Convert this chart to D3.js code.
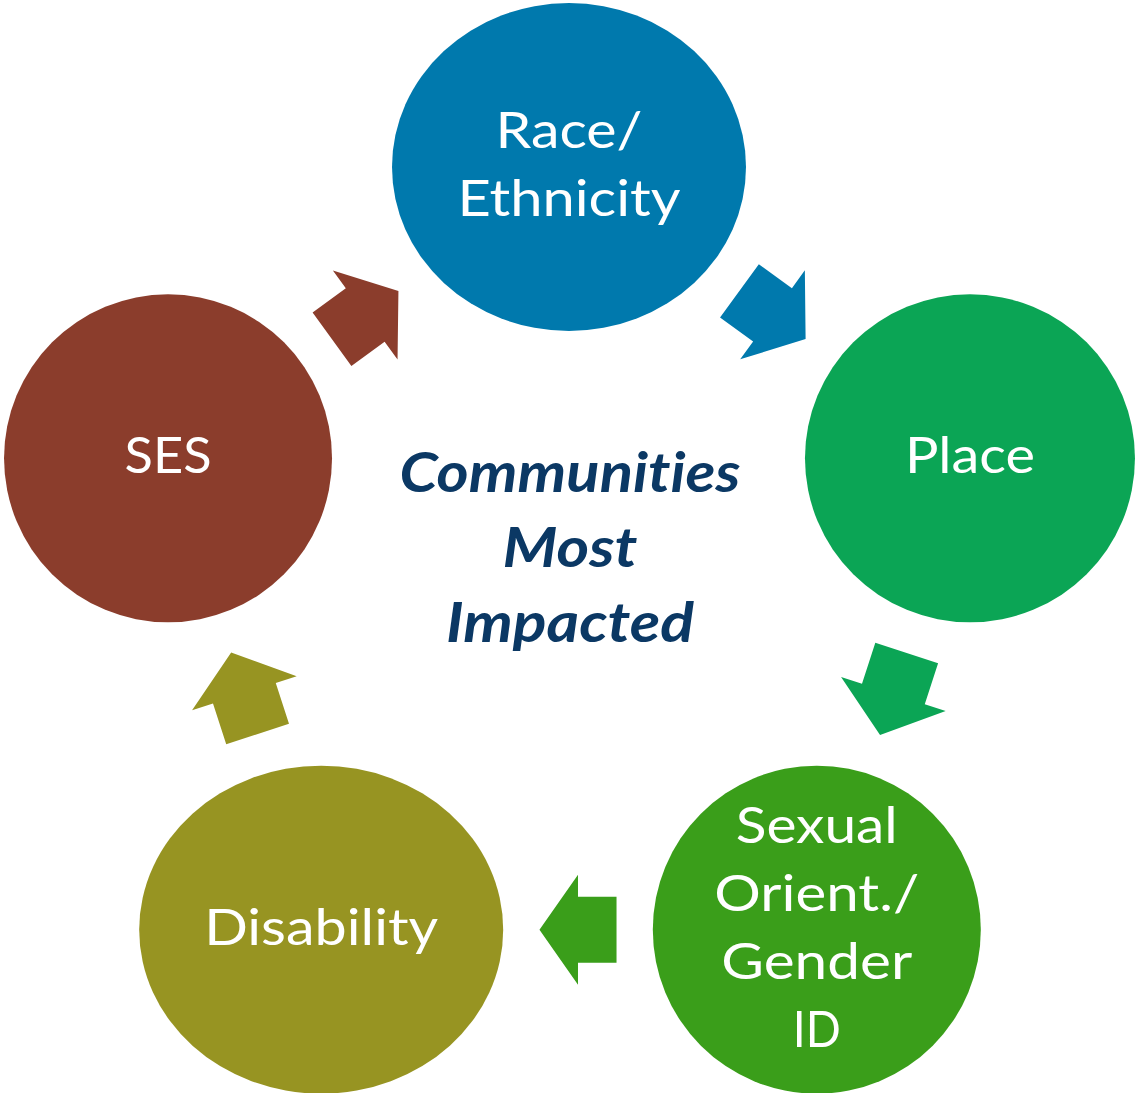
<!DOCTYPE html>
<html>
<head>
<meta charset="utf-8">
<script src="https://cdn.jsdelivr.net/npm/d3@7"></script>
<style>
  html, body { margin: 0; padding: 0; background: #ffffff; }
  svg { display: block; }
  text { font-variant-ligatures: none; font-feature-settings: "liga" 0, "clig" 0; }
</style>
</head>
<body>
<svg id="chart" width="1137" height="1093"></svg>
<script>
// ---------------- data ----------------
const nodeNames = ["Race/Ethnicity", "Place", "Sexual Orient./Gender ID", "Disability", "SES"];
const nodeLines = [
  ["Race/", "Ethnicity"],
  ["Place"],
  ["Sexual", "Orient./", "Gender", "ID"],
  ["Disability"],
  ["SES"]
];
const nodeColors = ["#0079AD", "#0BA555", "#3A9E1A", "#979422", "#8B3D2C"];
const centerLines = ["Communities", "Most", "Impacted"];

// ---------------- layout / style ----------------
const W = 1137, H = 1093;
const layout = {
  cx: 569, cy: 588.6, R: 421.6,
  nodeRx: [177, 165, 164, 182, 164], nodeRy: 164,
  lineH: 68, baseOff: 15,
  arrowHeadHalf: 55, arrowShaftHalf: 33, arrowRatio: 0.515,
  labelFont: "Lato, 'Open Sans', sans-serif", labelSize: 51,
  centerFont: "Lato, 'Open Sans', sans-serif", centerSize: 55,
  centerColor: "#0B3864",
  centerBaselines: [492, 567, 642]
};
const textWidths = {
  "Race/": 147, "Ethnicity": 223, "Place": 130, "Sexual": 162, "Orient./": 205,
  "Gender": 191, "ID": 48, "Disability": 234, "SES": 87,
  "Communities": 341, "Most": 135, "Impacted": 248
};

const svg = d3.select("#chart");

// angle scale: node index -> angle in degrees (clockwise from top)
const angle = d3.scaleLinear().domain([0, nodeNames.length]).range([-90, 270]);

const nodes = nodeNames.map((name, i) => {
  const a = angle(i) * Math.PI / 180;
  return {
    name, i,
    x: layout.cx + layout.R * Math.cos(a),
    y: layout.cy + layout.R * Math.sin(a),
    rx: layout.nodeRx[i], ry: layout.nodeRy,
    color: nodeColors[i], lines: nodeLines[i]
  };
});

// distance from ellipse center to its edge along unit direction (ux, uy)
function edgeDist(n, ux, uy) {
  return 1 / Math.sqrt((ux / n.rx) ** 2 + (uy / n.ry) ** 2);
}

const arrows = nodes.map((a, i) => {
  const b = nodes[(i + 1) % nodes.length];
  const dx = b.x - a.x, dy = b.y - a.y;
  const d = Math.hypot(dx, dy);
  const ux = dx / d, uy = dy / d;
  const ta = edgeDist(a, ux, uy), tb = edgeDist(b, -ux, -uy);
  const p1 = [a.x + ux * ta, a.y + uy * ta];
  const p2 = [b.x - ux * tb, b.y - uy * tb];
  const gap = Math.hypot(p2[0] - p1[0], p2[1] - p1[1]);
  return {
    mx: (p1[0] + p2[0]) / 2, my: (p1[1] + p2[1]) / 2,
    rot: Math.atan2(uy, ux) * 180 / Math.PI,
    len: gap * layout.arrowRatio,
    color: a.color
  };
});

function arrowPath(L) {
  const h = layout.arrowHeadHalf, s = layout.arrowShaftHalf;
  const pts = [[-L / 2, -s], [0, -s], [0, -h], [L / 2, 0], [0, h], [0, s], [-L / 2, s]];
  return d3.line()(pts) + "Z";
}

// arrows
svg.append("g").selectAll("path")
  .data(arrows)
  .join("path")
  .attr("transform", d => `translate(${d.mx},${d.my}) rotate(${d.rot})`)
  .attr("d", d => arrowPath(d.len))
  .attr("fill", d => d.color);

// nodes
const ng = svg.append("g").selectAll("g")
  .data(nodes)
  .join("g");

ng.append("ellipse")
  .attr("cx", d => d.x).attr("cy", d => d.y)
  .attr("rx", d => d.rx).attr("ry", d => d.ry)
  .attr("fill", d => d.color);

ng.each(function(d) {
  const g = d3.select(this);
  const n = d.lines.length;
  g.selectAll("text")
    .data(d.lines)
    .join("text")
    .attr("x", d.x)
    .attr("y", (t, j) => d.y + layout.baseOff + (j - (n - 1) / 2) * layout.lineH)
    .attr("text-anchor", "middle")
    .attr("font-family", layout.labelFont)
    .attr("font-size", layout.labelSize)
    .attr("fill", "#ffffff")
    .attr("textLength", t => textWidths[t])
    .attr("lengthAdjust", "spacingAndGlyphs")
    .text(t => t);
});

// center text
svg.append("g").selectAll("text")
  .data(centerLines)
  .join("text")
  .attr("x", layout.cx + 1)
  .attr("y", (t, j) => layout.centerBaselines[j])
  .attr("text-anchor", "middle")
  .attr("font-family", layout.centerFont)
  .attr("font-size", layout.centerSize)
  .attr("font-weight", "bold")
  .attr("font-style", "italic")
  .attr("fill", layout.centerColor)
  .attr("textLength", t => textWidths[t])
  .attr("lengthAdjust", "spacingAndGlyphs")
  .text(t => t);
</script>
</body>
</html>
